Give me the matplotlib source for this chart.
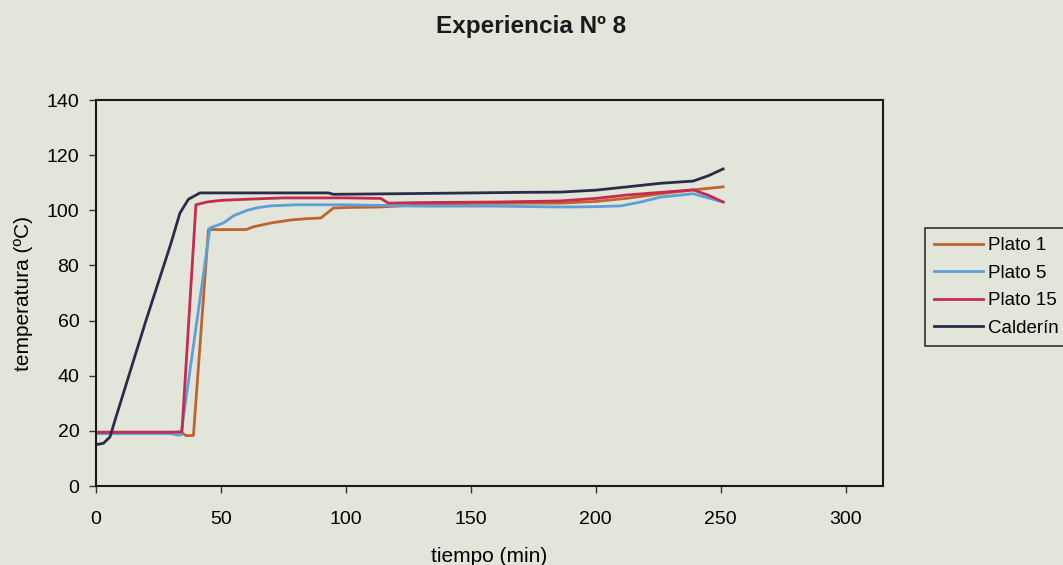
import matplotlib
matplotlib.use('agg')
import matplotlib.pyplot as plt
import numpy as np

plt.rcParams['font.family'] = ['Liberation Sans', 'DejaVu Sans']

# tiempo (min) / temperatura (C) for each measuring point
t_p1 = [0, 10, 20, 30, 34, 36, 39, 45, 52, 60, 63, 70, 78, 85, 90, 95, 100, 114, 130, 150, 170, 186, 200, 213, 226, 239, 251]
T_p1 = [19.5, 19.5, 19.5, 19.5, 19.5, 18.3, 18.3, 93, 93, 93, 94, 95.4, 96.5, 97, 97.2, 100.8, 101, 101.2, 102, 102.5, 102.6, 102.6, 103.2, 104.4, 106, 107.4, 108.5]

t_p5 = [0, 10, 20, 30, 32.5, 34, 45.6, 51, 55, 60.5, 65, 70, 80, 100, 130, 160, 186, 200, 210, 218, 226, 239, 251]
T_p5 = [19, 19, 19, 19, 18.5, 18.5, 93.6, 95.4, 98, 100, 101, 101.6, 102, 102, 101.5, 101.5, 101.2, 101.3, 101.6, 103, 104.8, 106, 103]

t_p15 = [0, 10, 20, 30, 34.4, 40, 44.4, 50, 60, 75, 100, 114, 117, 130, 160, 186, 200, 212, 226, 239, 245, 251]
T_p15 = [19.5, 19.5, 19.5, 19.5, 19.6, 102, 103, 103.6, 104, 104.5, 104.5, 104.3, 102.6, 102.8, 103, 103.4, 104.3, 105.5, 106.5, 107.4, 105.5, 103]

t_cal = [0, 3, 5.6, 8, 20, 30, 33.6, 37, 41.6, 50, 70, 93, 95, 120, 150, 170, 186, 200, 212.6, 226, 239, 245, 251]
T_cal = [15, 15.5, 17.8, 25, 60, 88, 99, 104, 106.3, 106.3, 106.3, 106.3, 105.8, 106, 106.3, 106.5, 106.6, 107.3, 108.5, 109.8, 110.6, 112.5, 115]

labels = ['Plato 1', 'Plato 5', 'Plato 15', 'Calderín']
colors = ['#c0642e', '#5d9fd6', '#c8294f', '#2b2b4a']
x_ticks = [0, 50, 100, 150, 200, 250, 300]
y_ticks = [0, 20, 40, 60, 80, 100, 120, 140]

bg = '#e2e5da'
fig = plt.figure(figsize=(10.63, 5.65), dpi=100, facecolor=bg)
ax = fig.add_axes([0.0903, 0.1398, 0.7404, 0.6832], facecolor=bg)

series = [(t_p1, T_p1), (t_p5, T_p5), (t_p15, T_p15), (t_cal, T_cal)]
for (t, T), lab, c in zip(series, labels, colors):
    ax.plot(t, T, color=c, lw=2.0, label=lab, solid_joinstyle='round')

ax.set_xlim(0, 315)
ax.set_ylim(0, 140)
ax.set_xticks(x_ticks)
ax.set_yticks(y_ticks)
ax.tick_params(labelsize=14, length=5, width=1, color='#333333')
ax.tick_params(axis='x', pad=13)
ax.tick_params(axis='y', pad=7)
for s in ax.spines.values():
    s.set_linewidth(1.5)
    s.set_color('#1a1a1a')

ax.set_xlabel('tiempo (min)', fontsize=15, labelpad=14)
ax.set_ylabel('temperatura (ºC)', fontsize=15, labelpad=10)
fig.text(0.5, 0.953, 'Experiencia Nº 8', ha='center', va='center',
         fontsize=17.5, fontweight='bold', color='#1a1a1a')

leg = ax.legend(loc='upper left', bbox_to_anchor=(0.870, 0.597),
                bbox_transform=fig.transFigure, borderaxespad=0,
                fontsize=13.5, handlelength=2.6, handletextpad=0.25,
                labelspacing=0.55, borderpad=0.5, fancybox=False,
                framealpha=1, facecolor=bg, edgecolor='#333333')
leg.get_frame().set_linewidth(1.2)

fig.savefig('out.png', dpi=100, facecolor=bg)
